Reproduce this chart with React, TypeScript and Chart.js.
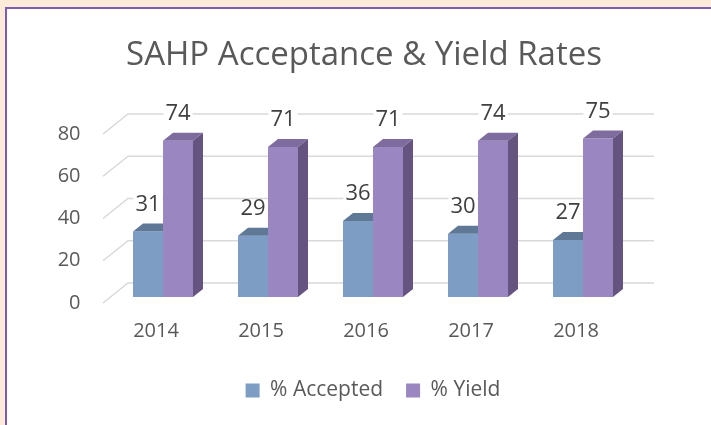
import React, { useEffect, useRef } from "react";
import { Chart, registerables } from "chart.js";

Chart.register(...registerables);

const years = ["2014", "2015", "2016", "2017", "2018"];
const accepted = [31, 29, 36, 30, 27];
const yieldRate = [74, 71, 71, 74, 75];
const yTicks = [0, 20, 40, 60, 80];

const TITLE = "SAHP Acceptance & Yield Rates";
const FONT = "'Open Sans', 'Noto Sans', sans-serif";

const frontColors = ["#7D9DC4", "#9A86C0"];
const topColors = ["#5E7896", "#7E6C9E"];
const sideColors = ["#5A7390", "#65547F"];

const DX = 10; // bar depth offsets
const DY = 8;

const wallPlugin = {
  id: "wall3d",
  beforeDatasetsDraw(chart: any) {
    const { ctx, chartArea, scales } = chart;
    const y = scales.y;
    ctx.save();
    ctx.strokeStyle = "#D9D9D9";
    ctx.lineWidth = 1.6;
    yTicks.forEach((v) => {
      const yp = y.getPixelForValue(v);
      ctx.beginPath();
      ctx.moveTo(chartArea.left - 7.5, yp + 6);
      ctx.lineTo(chartArea.left + 17.5, yp - 14);
      ctx.lineTo(chartArea.right + 18.5, yp - 14);
      ctx.stroke();
    });
    ctx.restore();
  },
  afterDatasetsDraw(chart: any) {
    const { ctx, chartArea } = chart;
    ctx.save();
    const metas = [chart.getDatasetMeta(0), chart.getDatasetMeta(1)];
    for (let i = 0; i < years.length; i++) {
      metas.forEach((meta, d) => {
        const bar = meta.data[i];
        const l = bar.x - bar.width / 2;
        const r = bar.x + bar.width / 2;
        const t = bar.y;
        const b = bar.base;
        ctx.fillStyle = topColors[d];
        ctx.beginPath();
        if (d === 0) {
          ctx.moveTo(l, t);
          ctx.lineTo(r, t);
          ctx.lineTo(r, t - DY);
          ctx.lineTo(l + DX, t - DY);
        } else {
          ctx.moveTo(l, t);
          ctx.lineTo(r, t);
          ctx.lineTo(r + DX, t - DY);
          ctx.lineTo(l + DX, t - DY);
        }
        ctx.closePath();
        ctx.fill();
        if (d === 1) {
          ctx.fillStyle = sideColors[d];
          ctx.beginPath();
          ctx.moveTo(r, t);
          ctx.lineTo(r + DX, t - DY);
          ctx.lineTo(r + DX, b - DY);
          ctx.lineTo(r, b);
          ctx.closePath();
          ctx.fill();
        }
      });
    }
    // data labels
    ctx.font = `22px ${FONT}`;
    ctx.textAlign = "center";
    ctx.textBaseline = "middle";
    metas.forEach((meta, d) => {
      const vals = d === 0 ? accepted : yieldRate;
      meta.data.forEach((bar: any, i: number) => {
        const txt = String(vals[i]);
        const w = ctx.measureText(txt).width;
        const cy = bar.y - 27;
        ctx.fillStyle = "#FFFFFF";
        ctx.fillRect(bar.x - w / 2 - 2, cy - 9, w + 4, 18);
        ctx.fillStyle = "#404040";
        ctx.fillText(txt, bar.x, cy);
      });
    });
    // title
    ctx.font = `33px ${FONT}`;
    ctx.fillStyle = "#595959";
    ctx.fillText(TITLE, (chartArea.left + chartArea.right) / 2 - 9, 56);
    ctx.restore();
  },
};

export default function App() {
  const ref = useRef<HTMLCanvasElement>(null);
  useEffect(() => {
    document.body.style.margin = "0";
    document.body.style.background = "#FDEBD9";
    const chart = new Chart(ref.current!, {
      type: "bar",
      data: {
        labels: years,
        datasets: [
          {
            label: "% Accepted",
            data: accepted,
            backgroundColor: frontColors[0],
            categoryPercentage: 0.5714,
            barPercentage: 1,
          },
          {
            label: "% Yield",
            data: yieldRate,
            backgroundColor: frontColors[1],
            categoryPercentage: 0.5714,
            barPercentage: 1,
          },
        ],
      },
      options: {
        animation: false,
        responsive: false,
        maintainAspectRatio: false,
        layout: { padding: { left: 0, right: 75.5, top: 128, bottom: 14 } },
        plugins: {
          title: { display: false },
          legend: {
            position: "bottom",
            fullSize: false,
            labels: {
              color: "#595959",
              font: { family: FONT, size: 21 },
              boxWidth: 14,
              boxHeight: 14,
              padding: 23,
            },
          },
          tooltip: { enabled: false },
        },
        scales: {
          x: {
            grid: { display: false, drawTicks: false },
            border: { display: false },
            ticks: {
              color: "#595959",
              font: { family: FONT, size: 20 },
              padding: 22,
              labelOffset: -7,
            },
            afterFit(scale: any) {
              scale.height = 60;
            },
          },
          y: {
            min: 0,
            max: 80,
            grid: { display: false, drawTicks: false },
            border: { display: false },
            ticks: {
              stepSize: 20,
              color: "#595959",
              font: { family: FONT, size: 20 },
              padding: 30,
              labelOffset: 6,
            },
            afterFit(scale: any) {
              scale.width = 110.5;
            },
          },
        },
      },
      plugins: [wallPlugin],
    });
    return () => chart.destroy();
  }, []);
  return (
    <div style={{ position: "relative", width: 711, height: 425, overflow: "hidden" }}>
      <div
        style={{
          position: "absolute",
          left: 5,
          top: 7,
          width: 720,
          height: 430,
          background: "#FFFFFF",
          borderLeft: "2px solid #7B5CAE",
          borderTop: "2px solid #7B5CAE",
        }}
      />
      <canvas ref={ref} width={711} height={425} style={{ position: "absolute", left: 0, top: 0 }} />
    </div>
  );
}
